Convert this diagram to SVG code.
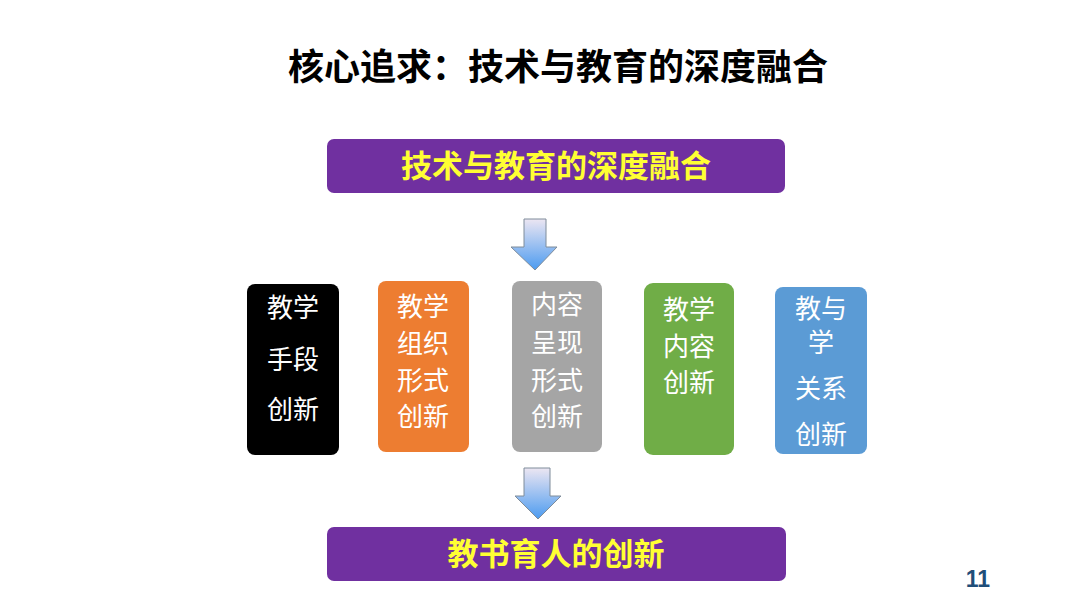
<svg xmlns="http://www.w3.org/2000/svg" width="1080" height="608" viewBox="0 0 1080 608">
<defs>
<linearGradient id="ag" x1="0" y1="0" x2="0" y2="1">
<stop offset="0" stop-color="#ECE6F2"/>
<stop offset="1" stop-color="#4C9BF0"/>
</linearGradient>
<style>
.cjk{font-family:"Noto Sans CJK SC","Noto Sans",sans-serif}
.title{font-size:36px;font-weight:bold;fill:#000}
.band{fill:#7030A0}
.bandt{font-size:31px;font-weight:bold;fill:#FFFF33;text-anchor:middle}
.bt{font-size:26px;fill:#fff;text-anchor:middle}
.arrow{fill:url(#ag);stroke:#7F8C9A;stroke-width:1}
</style>
</defs>
<rect width="1080" height="608" fill="#fff"/>
<text class="cjk title" x="558" y="80" text-anchor="middle">核心追求：技术与教育的深度融合</text>

<g id="top">
<rect class="band" x="327" y="139" width="458" height="54" rx="7"/>
<text class="cjk bandt" x="556" y="177">技术与教育的深度融合</text>
</g>

<g id="connectors">
<path class="arrow" d="M524,219 H546 V247 H557 L535,270 L511,247 H524 Z"/>
<path class="arrow" d="M524,468 H550 V496 H561 L538,519 L515,496 H524 Z"/>
</g>

<g id="n1">
<rect x="247" y="284" width="92" height="171" rx="8" fill="#000"/>
<text class="cjk bt" x="293" y="317">教学</text>
<text class="cjk bt" x="293" y="369">手段</text>
<text class="cjk bt" x="293" y="419">创新</text>
</g>
<g id="n2">
<rect x="378" y="281" width="91" height="171" rx="8" fill="#ED7D31"/>
<text class="cjk bt" x="423" y="316">教学</text>
<text class="cjk bt" x="423" y="353">组织</text>
<text class="cjk bt" x="423" y="390">形式</text>
<text class="cjk bt" x="423" y="426">创新</text>
</g>
<g id="n3">
<rect x="512" y="281" width="90" height="171" rx="8" fill="#A5A5A5"/>
<text class="cjk bt" x="557" y="314">内容</text>
<text class="cjk bt" x="557" y="352">呈现</text>
<text class="cjk bt" x="557" y="390">形式</text>
<text class="cjk bt" x="557" y="426">创新</text>
</g>
<g id="n4">
<rect x="644" y="283" width="90" height="172" rx="9" fill="#70AD47"/>
<text class="cjk bt" x="689" y="319">教学</text>
<text class="cjk bt" x="689" y="356">内容</text>
<text class="cjk bt" x="689" y="392">创新</text>
</g>
<g id="n5">
<rect x="775" y="287" width="92" height="167" rx="8" fill="#5B9BD5"/>
<text class="cjk bt" x="821" y="318">教与</text>
<text class="cjk bt" x="821" y="352">学</text>
<text class="cjk bt" x="821" y="398">关系</text>
<text class="cjk bt" x="821" y="444">创新</text>
</g>

<g id="bottom">
<rect class="band" x="327" y="527" width="459" height="54" rx="7"/>
<text class="cjk bandt" x="556" y="565">教书育人的创新</text>
</g>

<text x="978" y="587" text-anchor="middle" font-family="Liberation Sans, Arial, sans-serif" font-size="23" font-weight="bold" fill="#1F4E79">11</text>
</svg>
